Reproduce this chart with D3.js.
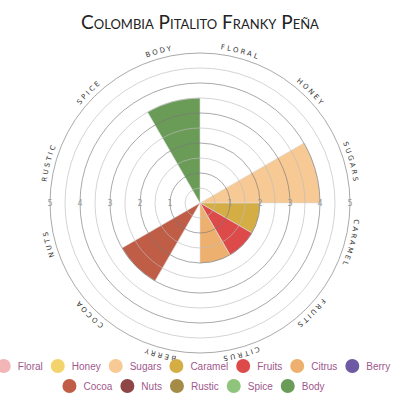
<!DOCTYPE html>
<html>
  <head>
    <meta charset="utf-8" />
    <title>Colombia Pitalito Franky Peña</title>
    <style>
      body {
        margin: 0;
        background: #fff;
      }

      .title {
        font: 19px Lato, sans-serif;
        font-variant: small-caps;
        fill: #222;
      }

      .cat-label {
        font: 7px "DejaVu Sans", sans-serif;
        letter-spacing: 2.2px;
        fill: #333;
      }

      .tick-label {
        font: 8px "DejaVu Sans", sans-serif;
        fill: #999;
      }

      .legend text {
        font: 10px "Liberation Sans", Arial, sans-serif;
        fill: #a0588c;
      }
    </style>
  </head>
  <body>
    <svg width="400" height="400"></svg>

    <script src="https://d3js.org/d3.v7.min.js"></script>
    <script>
      // Flavour categories, clockwise from 12 o'clock
      const categories = [
        "Floral", "Honey", "Sugars", "Caramel", "Fruits", "Citrus",
        "Berry", "Cocoa", "Nuts", "Rustic", "Spice", "Body",
      ];
      const scores = [0, 0, 4, 2, 2, 2, 0, 3, 0, 0, 0, 3.5];
      const colors = [
        "#f2b6b6", "#f3d46c", "#f7c994", "#d4ae45", "#dc4a4a", "#eeb06e",
        "#6d5aa3", "#bf5d47", "#8e4545", "#a68b46", "#8fc47c", "#6a9c58",
      ];
      const tickValues = [1, 2, 3, 4, 5];
      const legendRows = [7, 5]; // items per legend row

      const svg = d3.select("svg");
      const cx = 200;
      const cy = 203;
      const outer = 150;

      const r = d3.scaleLinear().domain([0, 5]).range([0, outer]);
      const step = (2 * Math.PI) / categories.length;

      svg
        .append("text")
        .attr("class", "title")
        .attr("x", 200)
        .attr("y", 29)
        .attr("text-anchor", "middle")
        .text("Colombia Pitalito Franky Peña");

      const g = svg.append("g").attr("transform", `translate(${cx},${cy})`);

      // Wedges
      const arc = d3
        .arc()
        .innerRadius(0)
        .outerRadius((d) => r(d.value))
        .startAngle((d) => d.i * step)
        .endAngle((d) => (d.i + 1) * step);

      g.selectAll(".wedge")
        .data(scores.map((value, i) => ({ value, i })).filter((d) => d.value > 0))
        .join("path")
        .attr("class", "wedge")
        .attr("d", arc)
        .attr("fill", (d) => colors[d.i])
        .attr("stroke", "#ddd")
        .attr("stroke-width", 0.6);

      // Grid rings every half point, drawn over the wedges
      const rings = d3.range(1, 11).map((k) => k / 2);
      g.selectAll(".ring")
        .data(rings)
        .join("circle")
        .attr("class", "ring")
        .attr("r", (d) => r(d))
        .attr("fill", "none")
        .attr("stroke", (d) => (d % 1 === 0 ? "#777" : "#bbb"))
        .attr("stroke-opacity", 0.8)
        .attr("stroke-width", 0.8);

      // Value labels along the horizontal axis
      g.selectAll(".tick-label")
        .data(tickValues.flatMap((t) => [t, -t]))
        .join("text")
        .attr("class", "tick-label")
        .attr("x", (d) => Math.sign(d) * r(Math.abs(d)))
        .attr("y", 0)
        .attr("dy", "0.35em")
        .attr("text-anchor", "middle")
        .text((d) => Math.abs(d));

      // Category labels on a clockwise circle path
      const R = outer + 5;
      g.append("path")
        .attr("id", "labelPath")
        .attr("fill", "none")
        .attr("d", `M0,${-R} A${R},${R} 0 1,1 0,${R} A${R},${R} 0 1,1 0,${-R}`);

      g.selectAll(".cat-label")
        .data(categories)
        .join("text")
        .attr("class", "cat-label")
        .append("textPath")
        .attr("href", "#labelPath")
        .attr("startOffset", (d, i) => ((i + 0.5) / categories.length) * 100 + "%")
        .attr("text-anchor", "middle")
        .text((d) => d.toUpperCase());

      // Legend, two centred rows
      const legend = svg.append("g").attr("class", "legend");
      let idx = 0;
      legendRows.forEach((count, row) => {
        const y = 366 + row * 20;
        const rowG = legend.append("g");
        const items = d3.range(idx, idx + count);
        idx += count;
        let x = 0;
        items.forEach((i) => {
          const item = rowG.append("g").attr("transform", `translate(${x},${y})`);
          item.append("circle").attr("cx", 7).attr("cy", 0).attr("r", 7).attr("fill", colors[i]);
          const t = item
            .append("text")
            .attr("x", 21)
            .attr("dy", "0.35em")
            .text(categories[i]);
          x += 21 + t.node().getComputedTextLength() + 8;
        });
        const total = x - 8;
        rowG.attr("transform", `translate(${193.5 - total / 2},0)`);
      });
    </script>
  </body>
</html>
